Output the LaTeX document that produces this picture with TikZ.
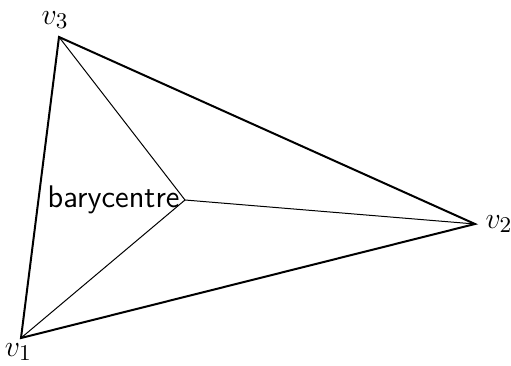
\documentclass[tikz,border=0pt]{standalone}
\begin{document}
\begin{tikzpicture}[x=0.4pt,y=-0.4pt,
  outer/.style={line width=0.8pt, line join=miter},
  inner/.style={line width=0.4pt},
  lbl/.style={inner sep=1pt, font=\fontsize{12.5}{15}\selectfont}]
\useasboundingbox (0,0) rectangle (511,365);
\coordinate (v1) at (21,338);
\coordinate (v2) at (475,224);
\coordinate (v3) at (59,37);
\coordinate (b) at (185,200);
\draw[inner] (b) -- (v1);
\draw[inner] (b) -- (v2);
\draw[inner] (b) -- (v3);
\draw[outer] (v1) -- (v2) -- (v3) -- cycle;
\node[lbl, anchor=south] (l3) at ([xshift=-1.5pt,yshift=2pt]v3) {$v_3$};
\node[lbl, anchor=west] (l2) at ([xshift=3pt]v2) {$v_2$};
\node[lbl, anchor=north] (l1) at ([xshift=-1pt,yshift=-1pt]v1) {$v_1$};
\node[lbl, anchor=east, font=\fontsize{12.5}{15}\selectfont\sffamily] (lb) at ([xshift=-1pt]b) {barycentre};
\end{tikzpicture}
\end{document}
